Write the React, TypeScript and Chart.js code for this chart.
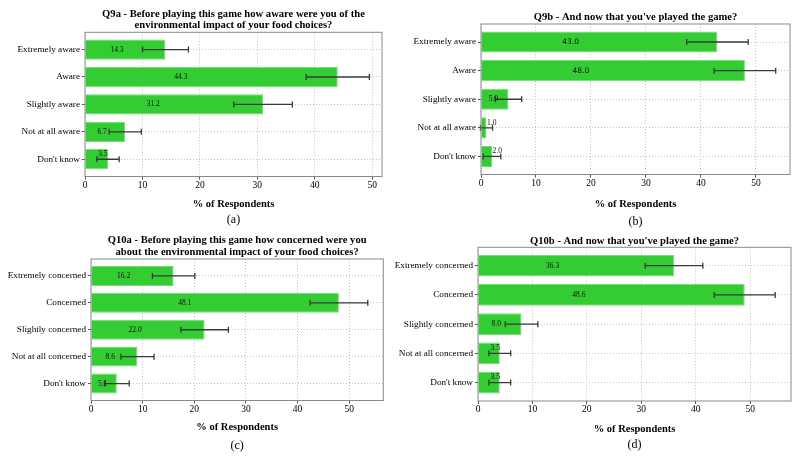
import React, { useEffect, useRef } from 'react';
import { Chart, registerables } from 'chart.js';

Chart.register(...registerables);

// ---------- data ----------
const awareCategories = ['Extremely aware', 'Aware', 'Slightly aware', 'Not at all aware', "Don't know"];
const concernCategories = ['Extremely concerned', 'Concerned', 'Slightly concerned', 'Not at all concerned', "Don't know"];

const q9aValues = [14, 44, 31, 7, 4];
const q9aErrors = [4, 5.5, 5.1, 2.8, 1.95];
const q9aLabels = ['14.3', '44.3', '31.2', '6.7', '3.5'];

const q9bValues = [43, 48, 5, 1, 2];
const q9bErrors = [5.6, 5.6, 2.4, 1.1, 1.6];
const q9bLabels = ['43.0', '48.0', '5.0', '1.0', '2.0'];

const q10aValues = [16, 48, 22, 9, 5];
const q10aErrors = [4.1, 5.6, 4.6, 3.2, 2.4];
const q10aLabels = ['16.2', '48.1', '22.0', '8.6', '5.1'];

const q10bValues = [36, 49, 8, 4, 4];
const q10bErrors = [5.3, 5.6, 3, 2, 2];
const q10bLabels = ['36.3', '48.6', '8.0', '3.5', '3.5'];

const xTickValues = [0, 10, 20, 30, 40, 50];

const q9aTitle = ['Q9a - Before playing this game how aware were you of the', 'environmental impact of your food choices?'];
const q9bTitle = ["Q9b - And now that you've played the game?"];
const q10aTitle = ['Q10a - Before playing this game how concerned were you', 'about the environmental impact of your food choices?'];
const q10bTitle = ["Q10b - And now that you've played the game?"];
const xAxisTitle = '% of Respondents';

// ---------- styling ----------
const SERIF = '"Liberation Serif", "Times New Roman", serif';
const SANS = '"DejaVu Sans", sans-serif';
const BAR_FILL = '#33cc33';
const BAR_EDGE = '#74de74';
const GRID = '#c4c4c4';
const SPINE = '#8a8a8a';
const ERR = '#3a3a3a';

type PanelProps = {
  title: string[];
  caption: string;
  categories: string[];
  values: number[];
  errors: number[];
  labels: string[];
  xMax: number;
  sansBigLabels?: boolean;
  box: { left: number; top: number; width: number; height: number };
  yAxisWidth: number;
  padRight: number;
  titlePad: { top: number; bottom: number };
  xAxisHeight: number;
  xTitlePadBottom: number;
  captionPadBottom: number;
};

function Panel(p: PanelProps) {
  const ref = useRef<HTMLCanvasElement | null>(null);

  useEffect(() => {
    const canvas = ref.current;
    if (!canvas) return;

    const overlay = {
      id: 'overlay',
      afterDatasetsDraw(chart: any) {
        const { ctx, scales } = chart;
        const xs = scales.x;
        const ys = scales.y;
        ctx.save();
        // error bars
        ctx.strokeStyle = ERR;
        ctx.lineWidth = 1.3;
        p.values.forEach((v, i) => {
          const py = ys.getPixelForValue(i);
          const x1 = xs.getPixelForValue(v - p.errors[i]);
          const x2 = xs.getPixelForValue(v + p.errors[i]);
          ctx.beginPath();
          ctx.moveTo(x1, py);
          ctx.lineTo(x2, py);
          ctx.moveTo(x1, py - 3);
          ctx.lineTo(x1, py + 3);
          ctx.moveTo(x2, py - 3);
          ctx.lineTo(x2, py + 3);
          ctx.stroke();
        });
        // value labels
        ctx.fillStyle = '#111';
        ctx.textBaseline = 'middle';
        p.values.forEach((v, i) => {
          const small = v < 5;
          if (small) {
            ctx.font = `7.5px ${SERIF}`;
            ctx.textAlign = 'left';
            ctx.fillText(p.labels[i], xs.getPixelForValue(Math.min(v, 2.2) + 0.1), ys.getPixelForValue(i - 0.18));
          } else {
            const sans = p.sansBigLabels && v >= 10;
            ctx.font = sans ? `7.5px ${SANS}` : `7.5px ${SERIF}`;
            ctx.textAlign = 'center';
            ctx.fillText(p.labels[i], xs.getPixelForValue(v * 0.37 + 0.4), ys.getPixelForValue(i));
          }
        });
        ctx.restore();
      },
      afterDraw(chart: any) {
        const { ctx, chartArea } = chart;
        ctx.save();
        ctx.strokeStyle = SPINE;
        ctx.lineWidth = 1;
        ctx.strokeRect(chartArea.left, chartArea.top, chartArea.right - chartArea.left, chartArea.bottom - chartArea.top);
        ctx.restore();
      },
    };

    const chart = new Chart(canvas, {
      type: 'bar',
      data: {
        datasets: [
          {
            data: p.values.map((v, i) => ({ x: v, y: i })),
            backgroundColor: BAR_FILL,
            borderColor: BAR_EDGE,
            borderWidth: 1,
            barPercentage: 0.74,
            categoryPercentage: 1,
          },
        ],
      },
      options: {
        indexAxis: 'y',
        animation: false,
        responsive: false,
        maintainAspectRatio: false,
        devicePixelRatio: 1,
        layout: { padding: { left: 0, right: p.padRight, top: 0, bottom: 0 } },
        plugins: {
          legend: { display: false },
          tooltip: { enabled: false },
          title: {
            display: true,
            text: p.title,
            fullSize: false,
            color: '#000',
            font: { family: SERIF, size: 10.6, weight: 'bold', lineHeight: 1.08 },
            padding: p.titlePad,
          },
          subtitle: {
            display: true,
            position: 'bottom',
            text: p.caption,
            fullSize: false,
            color: '#000',
            font: { family: SERIF, size: 12, lineHeight: 1.1 },
            padding: { top: 0, bottom: p.captionPadBottom },
          },
        },
        scales: {
          x: {
            type: 'linear',
            position: 'bottom',
            min: 0,
            max: p.xMax,
            offset: false,
            afterBuildTicks: (s: any) => {
              s.ticks = xTickValues.map((v) => ({ value: v }));
            },
            afterFit: (s: any) => {
              s.height = p.xAxisHeight;
            },
            grid: {
              color: GRID,
              lineWidth: 1,
              offset: false,
              tickLength: 3,
              tickColor: '#555',
              tickBorderDash: [],
            },
            border: { display: false, dash: [1, 2] },
            ticks: {
              color: '#000',
              font: { family: SERIF, size: 9.5 },
              padding: 0,
              maxRotation: 0,
              autoSkip: false,
            },
            title: {
              display: true,
              text: xAxisTitle,
              color: '#000',
              font: { family: SERIF, size: 10.5, weight: 'bold', lineHeight: 1.2 },
              padding: { top: 0, bottom: p.xTitlePadBottom },
            },
          },
          y: {
            type: 'linear',
            min: -0.63,
            max: 4.63,
            reverse: true,
            offset: false,
            afterBuildTicks: (s: any) => {
              s.ticks = p.categories.map((_, i) => ({ value: i }));
            },
            afterFit: (s: any) => {
              s.width = p.yAxisWidth;
            },
            grid: {
              color: GRID,
              lineWidth: 1,
              offset: false,
              tickLength: 3,
              tickColor: '#555',
              tickBorderDash: [],
            },
            border: { display: false, dash: [1, 2] },
            ticks: {
              color: '#000',
              font: { family: SERIF, size: 9.2 },
              padding: 2,
              autoSkip: false,
              callback: (v: any) => p.categories[Math.round(Number(v))] ?? '',
            },
          },
        },
      },
      plugins: [overlay],
    } as any);

    return () => chart.destroy();
  }, []);

  return (
    <canvas
      ref={ref}
      width={p.box.width}
      height={p.box.height}
      style={{ position: 'absolute', left: p.box.left, top: p.box.top, width: p.box.width, height: p.box.height }}
    />
  );
}

export default function App() {
  return (
    <div
      style={{
        position: 'absolute',
        left: 0,
        top: 0,
        width: 800,
        height: 461,
        background: '#fff',
        overflow: 'hidden',
      }}
    >
      <Panel
        title={q9aTitle}
        caption="(a)"
        categories={awareCategories}
        values={q9aValues}
        errors={q9aErrors}
        labels={q9aLabels}
        xMax={51.7}
        box={{ left: 0, top: 0, width: 400, height: 230 }}
        yAxisWidth={85}
        padRight={18}
        titlePad={{ top: 8.3, bottom: 1.1 }}
        xAxisHeight={36.9}
        xTitlePadBottom={3.1}
        captionPadBottom={3.4}
      />
      <Panel
        title={q9bTitle}
        caption="(b)"
        categories={awareCategories}
        values={q9bValues}
        errors={q9bErrors}
        labels={q9bLabels}
        xMax={56.2}
        sansBigLabels
        box={{ left: 400, top: 0, width: 400, height: 230 }}
        yAxisWidth={81}
        padRight={10}
        titlePad={{ top: 11.3, bottom: 1.25 }}
        xAxisHeight={40.6}
        xTitlePadBottom={4.8}
        captionPadBottom={1.7}
      />
      <Panel
        title={q10aTitle}
        caption="(c)"
        categories={concernCategories}
        values={q10aValues}
        errors={q10aErrors}
        labels={q10aLabels}
        xMax={56.6}
        box={{ left: 0, top: 230, width: 400, height: 231 }}
        yAxisWidth={91}
        padRight={16.7}
        titlePad={{ top: 4.8, bottom: 1.3 }}
        xAxisHeight={38.6}
        xTitlePadBottom={5.8}
        captionPadBottom={8.7}
      />
      <Panel
        title={q10bTitle}
        caption="(d)"
        categories={concernCategories}
        values={q10bValues}
        errors={q10bErrors}
        labels={q10bLabels}
        xMax={57.5}
        box={{ left: 380, top: 230, width: 420, height: 231 }}
        yAxisWidth={98}
        padRight={9}
        titlePad={{ top: 5.85, bottom: 0 }}
        xAxisHeight={37.4}
        xTitlePadBottom={2.8}
        captionPadBottom={9.4}
      />
    </div>
  );
}
